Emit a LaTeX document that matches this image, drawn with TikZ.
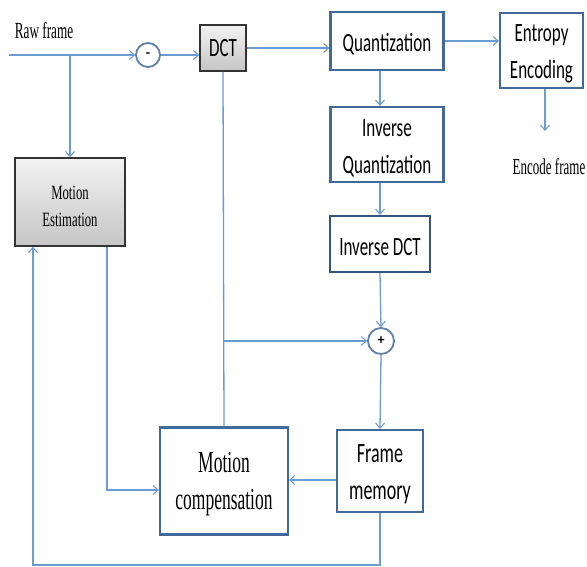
\documentclass[tikz,border=0pt]{standalone}
\usepackage{fontspec}
\setmainfont{Liberation Serif}
\newfontfamily\calfont{Carlito}
\usetikzlibrary{arrows.meta,shadows,calc}
\definecolor{ln}{HTML}{6A9BD1}
\definecolor{bx}{HTML}{41699A}
\newcommand\tc[1]{\raisebox{-3.5pt}[\height][\depth]{\scalebox{1}[1.55]{#1}}}
\newcommand\ts[1]{\raisebox{-3.5pt}[\height][\depth]{\scalebox{1}[1.75]{#1}}}
\newcommand\tm[1]{\raisebox{-4.5pt}[\height][\depth]{\scalebox{1}[1.6]{#1}}}
\begin{document}
\begin{tikzpicture}[x=1pt,y=-1pt,
  line width=1.3pt,
  arr/.style={draw=ln,-{Straight Barb[length=5pt,width=9pt,line width=1.1pt]}},
  con/.style={draw=ln},
  bluebox/.style={draw=bx,line width=2.2pt,fill=white,align=center,font=\calfont\fontsize{17}{37}\selectfont,inner sep=2pt},
  graybox/.style={draw=black!80,line width=1.6pt,top color=gray!10,bottom color=gray!45,align=center,drop shadow={shadow xshift=1pt,shadow yshift=-1.5pt,opacity=0.3}},
  circ/.style={circle,draw=bx!85,line width=1.8pt,fill=white,inner sep=0pt}]
\useasboundingbox (0,0) rectangle (587,567);

\node[graybox,minimum width=46,minimum height=46,font=\calfont\fontsize{17}{20}\selectfont] (dct) at (223,48) {\scalebox{1}[1.55]{DCT}};
\node[bluebox,minimum width=113,minimum height=58] (quant) at (387,41) {\tc{Quantization}};
\node[bluebox,minimum width=83,minimum height=75] (ent) at (541.5,50.5) {\tc{Entropy}\\\tc{Encoding}};
\node[bluebox,minimum width=113,minimum height=75] (invq) at (387,144.5) {\tc{Inverse}\\\tc{Quantization}};
\node[bluebox,minimum width=100,minimum height=56,draw=bx!80!black] (invdct) at (380,244) {\tc{Inverse DCT}};
\node[graybox,minimum width=110,minimum height=88,font=\fontsize{12.7}{27}\selectfont] (me) at (70,202) {\tm{Motion}\\\tm{Estimation}};
\node[bluebox,minimum width=128,minimum height=107,font=\fontsize{17.5}{37}\selectfont] (mc) at (224,481) {\ts{Motion}\\\ts{compensation}};
\node[bluebox,minimum width=86,minimum height=82,font=\calfont\fontsize{18}{37}\selectfont] (fm) at (380,471) {\tc{Frame}\\\tc{memory}};
\node[circ,minimum size=24,font=\calfont\bfseries\fontsize{14}{14}\selectfont] (minus) at (148,55) {-};
\node[circ,minimum size=26,font=\calfont\bfseries\fontsize{14}{14}\selectfont] (plus) at (381,341) {+};
\node[font=\fontsize{13.2}{16}\selectfont,inner sep=0pt] (raw) at (44,27) {\ts{Raw frame}};
\node[font=\fontsize{13}{16}\selectfont,inner sep=0pt] (enc) at (549,163) {\ts{Encode frame}};

\coordinate (start) at (9,55);
\coordinate (entout) at (545,131);

\draw[arr] (start) -- (minus.west);
\draw[arr] (start -| me.north) -- (me.north);
\draw[arr] (minus.east) -- (minus -| dct.west);
\draw[arr] (dct.east) -- (dct.east -| quant.west);
\draw[arr] (quant.east) -- (quant.east -| ent.west);
\draw[arr] (ent.south -| entout) -- (entout);
\draw[arr] (quant.south -| invdct.north) -- (invq.north -| invdct.north);
\draw[arr] (invq.south -| invdct.north) -- (invdct.north);
\draw[arr] (invdct.south) -- (plus.north);
\draw[con] (dct.south) -- (mc.north);
\draw[arr] (dct.south |- plus) -- (plus.west);
\draw[arr] (plus.south) -- (fm.north);
\draw[arr] ([yshift=-9pt]fm.west) -- ([yshift=-9pt]fm.west -| mc.east);
\draw[arr] ([xshift=37pt]me.south) |- ([yshift=-9pt]mc.west);
\draw[arr] (fm.south) -- ++(0,52) -| ([xshift=-37pt]me.south);
\end{tikzpicture}
\end{document}
